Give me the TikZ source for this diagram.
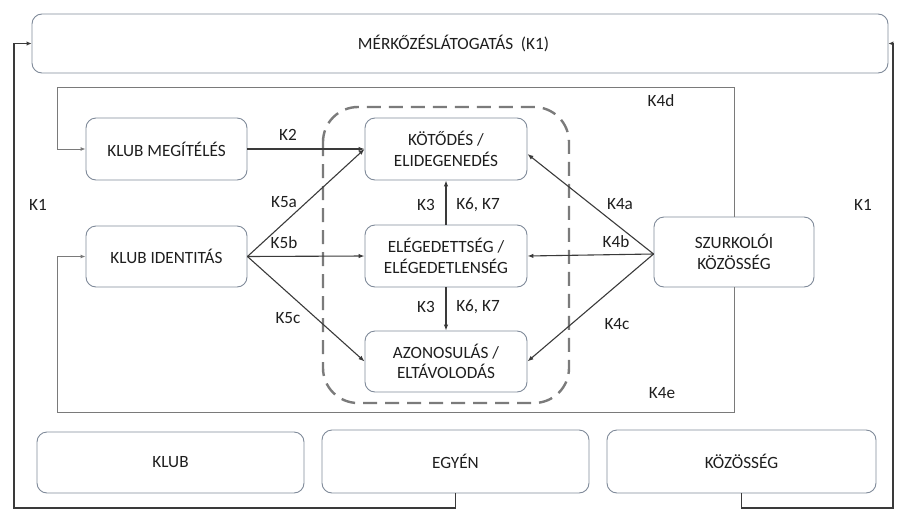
\documentclass[tikz,border=0pt]{standalone}
\usepackage{fontspec}
\setmainfont{Carlito}
\usetikzlibrary{arrows.meta}
\definecolor{boxc}{HTML}{7F8A99}
\definecolor{linec}{HTML}{3A3A3A}
\definecolor{textc}{HTML}{1E1E1E}
\definecolor{innerc}{HTML}{7A7A7A}
\definecolor{dashc}{HTML}{7B7B7B}
\begin{document}
\begin{tikzpicture}[x=1pt,y=-1pt,
  txt/.style={font=\fontsize{17.2}{20.5}\selectfont, text=textc},
  box/.style={txt, draw=boxc, line width=0.9pt, rounded corners=10pt, align=center, inner sep=0pt},
  conn/.style={draw=linec, line width=1.1pt, -{Latex[length=6pt,width=4.5pt]}},
  innerline/.style={draw=innerc, line width=0.9pt, -{Latex[length=5pt,width=4pt]}},
  outerline/.style={draw=linec, line width=1.5pt, -{Latex[length=5pt,width=4.5pt]}},
  lbl/.style={txt, inner sep=0pt}]
\useasboundingbox (0,0) rectangle (903,509);

% dashed group
\draw[dashc, line width=2.4pt, dash pattern=on 14pt off 8pt, rounded corners=35pt] (323,107) rectangle (569,403);

% nodes
\node[box, minimum width=856pt, minimum height=59pt] (top) at (460,43.5) {MÉRKŐZÉSLÁTOGATÁS\ \ (K1)\hspace{13pt}};
\node[box, minimum width=161pt, minimum height=62pt] (megit) at (166.5,149) {KLUB MEGÍTÉLÉS};
\node[box, minimum width=161pt, minimum height=61pt] (ident) at (166.5,256.5) {KLUB IDENTITÁS};
\node[box, minimum width=162pt, minimum height=62pt] (kot) at (446,149) {KÖTŐDÉS /\\ELIDEGENEDÉS};
\node[box, minimum width=162pt, minimum height=62pt] (eleg) at (446,256) {ELÉGEDETTSÉG /\\ELÉGEDETLENSÉG};
\node[box, minimum width=162pt, minimum height=61pt] (azon) at (446,361.5) {AZONOSULÁS /\\ELTÁVOLODÁS};
\node[box, minimum width=160pt, minimum height=70pt] (szur) at (734,252) {SZURKOLÓI\\KÖZÖSSÉG};
\node[box, minimum width=267pt, minimum height=61pt] (klub) at (170.5,462.5) {KLUB};
\node[box, minimum width=267pt, minimum height=63pt] (egyen) at (455.5,461.5) {EGYÉN};
\node[box, minimum width=269pt, minimum height=63pt] (kozos) at (741.5,461.5) {KÖZÖSSÉG};

% corner coordinates
\coordinate (tl) at (57,87);
\coordinate (tr) at (734,87);
\coordinate (bl) at (57,412);
\coordinate (br) at (734,412);
\coordinate (lb) at (14,508);
\coordinate (rb) at (893,508);

% inner frame lines
\draw[innerline] (szur.north) -- (tr) -- (tl) |- (megit.west);
\draw[innerline] (szur.south) -- (br) -- (bl) |- (ident.west);

% outer loops
\draw[outerline] (egyen.south) |- (lb) |- (top.west);
\draw[outerline] (kozos.south) |- (rb) |- (top.east);

% connectors
\draw[conn] (megit.east) -- (kot.west);
\draw[conn] (ident.east) -- (kot.west);
\draw[conn] (ident.east) -- (eleg.west);
\draw[conn] (ident.east) -- (azon.west);
\draw[conn] (eleg.north) -- (kot.south);
\draw[conn] (eleg.south) -- (azon.north);
\draw[conn] ([yshift=-2pt]szur.west) -- ([yshift=-5pt]kot.east);
\draw[conn] ([yshift=-2pt]szur.west) -- (eleg.east);
\draw[conn] ([yshift=-2pt]szur.west) -- (azon.east);

% labels
\node[lbl] (l1) at (38,205) {K1};
\node[lbl] (l2) at (863,205) {K1};
\node[lbl] (l3) at (661,101) {K4d};
\node[lbl] (l4) at (662,393) {K4e};
\node[lbl] (l5) at (288,135) {K2};
\node[lbl] (l6) at (284,202) {K5a};
\node[lbl] (l7) at (284,243) {K5b};
\node[lbl] (l8) at (288,318) {K5c};
\node[lbl] (l9) at (426,205) {K3};
\node[lbl] (l10) at (478,205) {K6, K7};
\node[lbl] (l11) at (426,307) {K3};
\node[lbl] (l12) at (478,307) {K6, K7};
\node[lbl] (l13) at (620,204) {K4a};
\node[lbl] (l14) at (616,242) {K4b};
\node[lbl] (l15) at (617,324) {K4c};
\end{tikzpicture}
\end{document}
